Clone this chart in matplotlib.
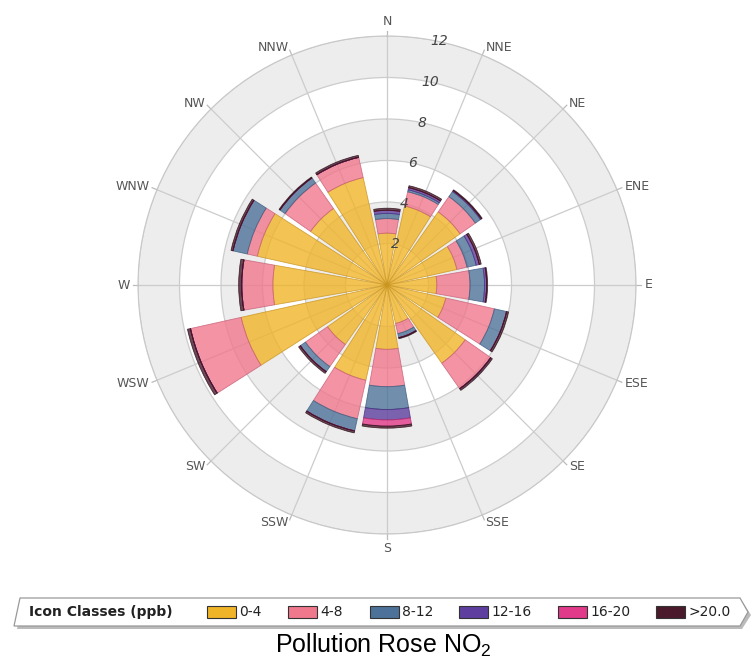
import numpy as np
import matplotlib
matplotlib.use("Agg")
import matplotlib.pyplot as plt
from matplotlib.patches import Polygon, Rectangle
from matplotlib.lines import Line2D

# wind directions, clockwise from north
directions = ["N", "NNE", "NE", "ENE", "E", "ESE", "SE", "SSE",
              "S", "SSW", "SW", "WSW", "W", "WNW", "NW", "NNW"]

# concentration classes (ppb) and the frequency in each class per direction
classes = ["0-4", "4-8", "8-12", "12-16", "16-20", ">20.0"]
c_0_4 = [2.5, 3.9, 4.3, 3.45, 2.4, 2.9, 4.6, 1.9, 3.1, 4.7, 3.5, 7.2, 5.5, 6.4, 4.5, 5.3]
c_4_8 = [0.7, 0.7, 0.9, 0.5, 1.6, 2.4, 1.5, 0.5, 1.8, 1.9, 1.3, 2.5, 1.5, 0.5, 1.5, 1.0]
c_8_12 = [0.25, 0.1, 0.3, 0.45, 0.7, 0.6, 0.0, 0.2, 1.1, 0.6, 0.3, 0.0, 0.0, 0.7, 0.3, 0.0]
c_12_16 = [0.15, 0.1, 0.05, 0.15, 0.1, 0.0, 0.0, 0.0, 0.5, 0.0, 0.0, 0.0, 0.0, 0.0, 0.0, 0.0]
c_16_20 = [0.0, 0.0, 0.0, 0.0, 0.0, 0.0, 0.0, 0.0, 0.3, 0.0, 0.0, 0.0, 0.0, 0.0, 0.0, 0.0]
c_gt20 = [0.1, 0.1, 0.05, 0.1, 0.05, 0.1, 0.1, 0.05, 0.1, 0.1, 0.1, 0.15, 0.15, 0.1, 0.05, 0.1]
ring_ticks = [2, 4, 6, 8, 10, 12]

colors = ["#F0B429", "#F0788C", "#4D7299", "#5E3FA0", "#E23A8A", "#4A1A2C"]
edges = ["#C99420", "#C8607A", "#3E5E80", "#4A3080", "#B02C6C", "#2A0E18"]

W, H = 753, 661
fig = plt.figure(figsize=(W / 100, H / 100), dpi=100)

def fx(x):
    return x / W

def fy(y):
    return 1 - y / H

# polar axes: centre (387, 285), radius ~249 px
cx, cy, R = 387, 285, 249
ax = fig.add_axes([fx(cx - R), fy(cy + R), 2 * R / W, 2 * R / H], projection="polar")
ax.set_theta_zero_location("N")
ax.set_theta_direction(-1)
ax.set_ylim(0, 12)
ax.set_axisbelow(True)

# alternating grey bands
for b in [2, 6, 10]:
    ax.bar(0, 2, width=2 * np.pi, bottom=b, color="#EDEDED", linewidth=0, zorder=0)

theta = np.deg2rad(np.arange(16) * 22.5)
ax.set_xticks(theta)
ax.set_xticklabels([])
ax.set_yticks(ring_ticks)
ax.set_yticklabels([])
ax.grid(color="#CCCCCC", linewidth=0.9)
ax.spines["polar"].set_color("#C8C8C8")

# stacked bars
stack = [c_0_4, c_4_8, c_8_12, c_12_16, c_16_20, c_gt20]
bottom = np.zeros(16)
for vals, col, ec in zip(stack, colors, edges):
    vals = np.array(vals)
    ax.bar(theta, vals, width=np.deg2rad(20), bottom=bottom, color=col,
           alpha=0.8, edgecolor=ec, linewidth=0.6, zorder=2)
    bottom = bottom + vals

# small ticks outside the ring and direction labels
for t, name in zip(theta, directions):
    ax.plot([t, t], [12, 12.25], color="#BBBBBB", lw=0.9, clip_on=False, zorder=1)
    s, c = np.sin(t), np.cos(t)
    ha = "left" if s > 0.1 else ("right" if s < -0.1 else "center")
    va = "bottom" if c > 0.95 else ("top" if c < -0.95 else "center")
    ax.text(t, 12.4, name, ha=ha, va=va, fontsize=9, color="#555555")

# ring value labels
for r in ring_ticks:
    ax.text(np.deg2rad(12), r, str(r), ha="center", va="center", fontsize=10,
            style="italic", color="#444444", zorder=5)

# legend strip
top, bot = 598, 626
shadow = Polygon([(fx(x), fy(y)) for x, y in
                  [(23, top + 3), (742, top + 3), (751, (top + bot) / 2 + 3),
                   (742, bot + 3), (17, bot + 3)]],
                 closed=True, facecolor="#BBBBBB", edgecolor="none",
                 transform=fig.transFigure, zorder=1)
box = Polygon([(fx(x), fy(y)) for x, y in
               [(20, top), (740, top), (748, (top + bot) / 2), (740, bot), (14, bot)]],
              closed=True, facecolor="white", edgecolor="#999999", linewidth=0.9,
              transform=fig.transFigure, zorder=2)
fig.patches.extend([shadow, box])
ymid = (top + bot) / 2
fig.text(fx(29), fy(ymid), "Icon Classes (ppb)", ha="left", va="center",
         fontsize=10, fontweight="bold", color="#222222", zorder=3)

seps = [197, 279, 360, 450, 548, 647]
patch_x = [207, 288, 370, 459, 558, 656]
for sx in seps:
    fig.lines.append(Line2D([fx(sx), fx(sx)], [fy(top + 2), fy(bot - 2)],
                            transform=fig.transFigure, color="#DDDDDD", lw=0.9))
for px, lab, col in zip(patch_x, classes, colors):
    fig.patches.append(Rectangle((fx(px), fy(ymid + 6)), 29 / W, 12 / H,
                                 facecolor=col, edgecolor="#333333", linewidth=0.8,
                                 transform=fig.transFigure, zorder=3))
    fig.text(fx(px + 32), fy(ymid), lab, ha="left", va="center",
             fontsize=10, color="#222222", zorder=3)

plt.rcParams["mathtext.fontset"] = "custom"
plt.rcParams["mathtext.rm"] = "Liberation Sans"
plt.rcParams["mathtext.default"] = "regular"
fig.text(fx(383), fy(645), "Pollution Rose NO$_2$", ha="center", va="center",
         fontsize=18, family="Liberation Sans", color="black")

fig.savefig("out.png", dpi=100)
